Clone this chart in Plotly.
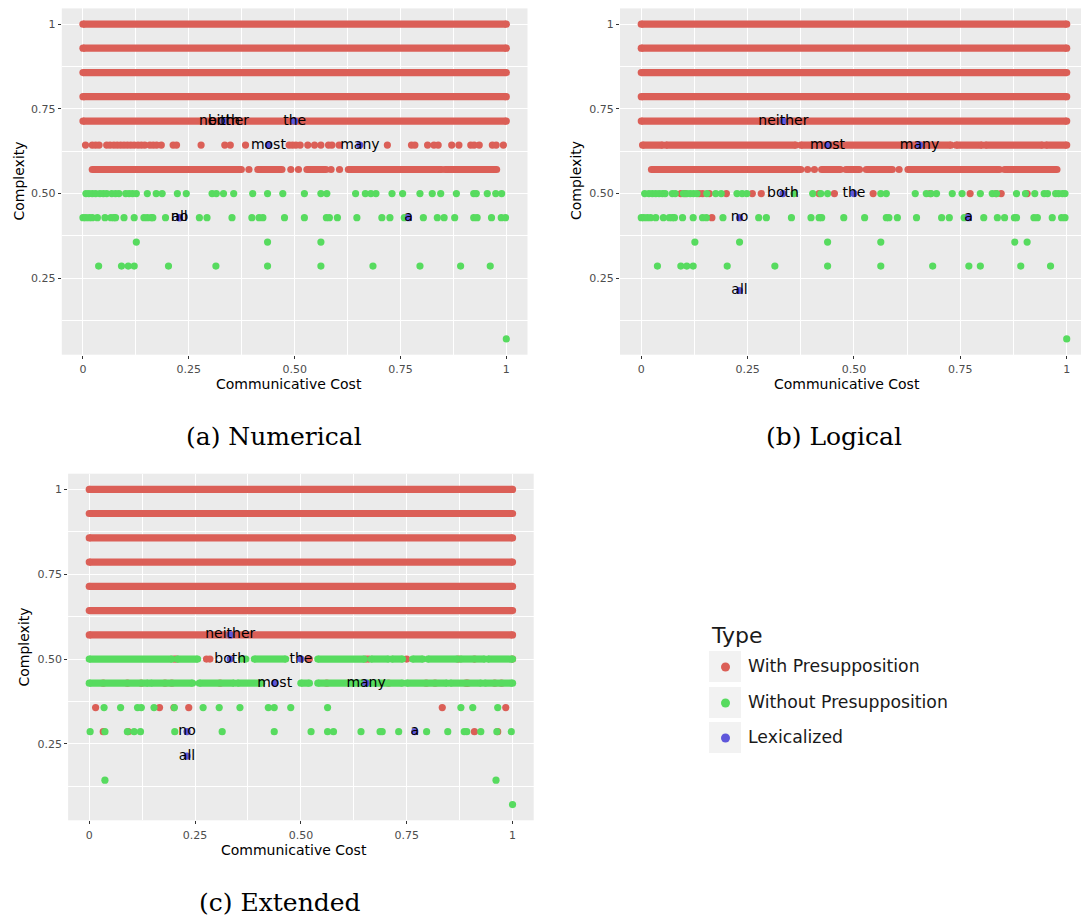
import plotly.graph_objects as go

W, H = 1081, 922
RED, GREEN, BLUE = "#DB5F57", "#57DB5F", "#5F57DB"

# ---------------- (a) Numerical ----------------
num_red_bands = [(1.0, 0.0, 1.0), (0.929, 0.0, 1.0), (0.857, 0.0, 1.0), (0.786, 0.0, 1.0), (0.714, 0.0, 1.0),
                 (0.571, 0.022, 0.374), (0.571, 0.413, 0.470), (0.571, 0.529, 0.574),
                 (0.571, 0.627, 0.847), (0.571, 0.855, 0.977)]
num_red_pts = {
    0.643: [0.006, 0.022, 0.030, 0.038, 0.056, 0.064, 0.073, 0.081, 0.089, 0.097, 0.105, 0.113, 0.121, 0.130,
            0.138, 0.146, 0.158, 0.166, 0.174, 0.185, 0.213, 0.221, 0.279, 0.335, 0.348, 0.384, 0.487, 0.495,
            0.503, 0.513, 0.531, 0.547, 0.562, 0.580, 0.588, 0.605, 0.719, 0.776, 0.784, 0.814, 0.829, 0.839,
            0.871, 0.888, 0.916, 0.924, 0.936, 0.967, 0.976, 0.993],
    0.571: [0.392, 0.491, 0.509, 0.586, 0.606],
}
num_green_bands = []
num_green_pts = {
    0.5: [0.007, 0.014, 0.022, 0.030, 0.040, 0.048, 0.056, 0.068, 0.077, 0.085, 0.101, 0.109, 0.117, 0.126,
          0.152, 0.173, 0.187, 0.223, 0.244, 0.305, 0.315, 0.332, 0.356, 0.401, 0.436, 0.472, 0.523, 0.562,
          0.576, 0.644, 0.667, 0.680, 0.692, 0.730, 0.755, 0.796, 0.825, 0.845, 0.882, 0.923, 0.929, 0.955,
          0.975, 0.989],
    0.429: [0.0, 0.007, 0.015, 0.022, 0.034, 0.052, 0.066, 0.073, 0.077, 0.097, 0.121, 0.144, 0.152, 0.161,
            0.165, 0.195, 0.275, 0.293, 0.352, 0.399, 0.416, 0.425, 0.476, 0.523, 0.575, 0.582, 0.601, 0.647,
            0.706, 0.725, 0.759, 0.804, 0.837, 0.853, 0.878, 0.923, 0.931, 0.965, 0.988, 0.998],
    0.357: [0.126, 0.436, 0.562],
    0.286: [0.037, 0.091, 0.107, 0.121, 0.202, 0.314, 0.436, 0.562, 0.685, 0.796, 0.892, 0.962],
    0.071: [1.0],
}
num_lex_words = ["neither", "both", "the", "most", "many", "all", "no", "a"]
num_lex_x = [0.333, 0.333, 0.5, 0.438, 0.654, 0.228, 0.228, 0.769]
num_lex_y = [0.714, 0.714, 0.714, 0.643, 0.643, 0.429, 0.429, 0.429]

# ---------------- (b) Logical ----------------
log_red_bands = [(1.0, 0.0, 1.0), (0.929, 0.0, 1.0), (0.857, 0.0, 1.0), (0.786, 0.0, 1.0), (0.714, 0.0, 1.0),
                 (0.643, 0.003, 0.050), (0.643, 0.058, 0.363), (0.643, 0.375, 0.728), (0.643, 0.740, 0.801),
                 (0.643, 0.809, 0.943), (0.643, 0.951, 1.0),
                 (0.571, 0.024, 0.375), (0.571, 0.424, 0.468), (0.571, 0.481, 0.513), (0.571, 0.529, 0.590),
                 (0.571, 0.627, 0.842), (0.571, 0.854, 0.977)]
log_red_pts = {
    0.571: [0.391, 0.407, 0.606],
    0.5: [0.093, 0.103, 0.136, 0.144, 0.160, 0.200, 0.261, 0.282, 0.418, 0.454, 0.545, 0.679, 0.773, 0.834,
          0.846, 0.907],
    0.429: [0.166],
}
log_green_bands = []
log_green_pts = {
    0.5: [0.008, 0.018, 0.026, 0.034, 0.042, 0.050, 0.056, 0.073, 0.080, 0.099, 0.107, 0.115, 0.123, 0.131,
          0.154, 0.175, 0.188, 0.225, 0.237, 0.248, 0.359, 0.403, 0.422, 0.438, 0.563, 0.576, 0.644, 0.670,
          0.681, 0.694, 0.731, 0.754, 0.797, 0.825, 0.835, 0.882, 0.903, 0.925, 0.947, 0.955, 0.974, 0.981,
          0.990, 0.996],
    0.429: [0.0, 0.006, 0.014, 0.022, 0.034, 0.052, 0.066, 0.073, 0.078, 0.097, 0.122, 0.144, 0.153, 0.192,
            0.276, 0.294, 0.353, 0.399, 0.418, 0.424, 0.476, 0.525, 0.576, 0.582, 0.602, 0.647, 0.706, 0.724,
            0.759, 0.805, 0.837, 0.854, 0.877, 0.882, 0.923, 0.931, 0.966, 0.988, 0.996],
    0.357: [0.126, 0.231, 0.438, 0.563, 0.878, 0.907],
    0.286: [0.038, 0.093, 0.107, 0.122, 0.202, 0.314, 0.438, 0.563, 0.685, 0.770, 0.797, 0.892, 0.962],
    0.071: [1.0],
}
log_lex_words = ["neither", "most", "many", "both", "the", "no", "a", "all"]
log_lex_x = [0.334, 0.438, 0.654, 0.333, 0.5, 0.231, 0.769, 0.231]
log_lex_y = [0.714, 0.643, 0.643, 0.5, 0.5, 0.429, 0.429, 0.214]

# ---------------- (c) Extended ----------------
ext_red_bands = [(1.0, 0.0, 1.0), (0.929, 0.0, 1.0), (0.857, 0.0, 1.0), (0.786, 0.0, 1.0), (0.714, 0.0, 1.0),
                 (0.643, 0.0, 1.0), (0.571, 0.0, 1.0)]
ext_red_pts = {
    0.5: [0.200, 0.205, 0.277, 0.285, 0.520, 0.654, 0.660, 0.750, 0.873, 0.910, 1.0],
    0.429: [0.033, 0.090, 0.123, 0.179, 0.195, 0.309, 0.561, 0.707, 0.796, 0.817, 0.890, 0.894, 0.958, 0.974],
    0.357: [0.015, 0.166, 0.200, 0.235, 0.834, 0.984],
    0.286: [0.033, 0.092, 0.910, 0.965],
}
ext_green_bands = [(0.5, 0.0, 0.195), (0.5, 0.208, 0.256), (0.5, 0.39, 0.464), (0.5, 0.54, 0.65),
                   (0.5, 0.666, 0.707), (0.5, 0.715, 0.74), (0.5, 0.764, 0.788), (0.5, 0.80, 0.87),
                   (0.5, 0.877, 0.934), (0.5, 0.942, 1.0),
                   (0.429, 0.0, 0.139), (0.429, 0.145, 0.244), (0.429, 0.26, 0.342), (0.429, 0.35, 0.407),
                   (0.429, 0.5, 0.52), (0.429, 0.54, 0.74), (0.429, 0.75, 0.845), (0.429, 0.853, 0.926),
                   (0.429, 0.934, 1.0)]
ext_green_pts = {
    0.5: [0.36, 0.37],
    0.357: [0.035, 0.074, 0.114, 0.123, 0.153, 0.201, 0.269, 0.307, 0.356, 0.423, 0.437, 0.476, 0.563, 0.878,
            0.906, 0.965],
    0.286: [0.002, 0.037, 0.090, 0.106, 0.121, 0.202, 0.314, 0.437, 0.524, 0.563, 0.577, 0.642, 0.687, 0.692,
            0.731, 0.797, 0.847, 0.886, 0.892, 0.925, 0.963, 0.997],
    0.143: [0.037, 0.961],
    0.071: [1.0],
}
ext_lex_words = ["neither", "both", "the", "most", "many", "no", "all", "a"]
ext_lex_x = [0.333, 0.333, 0.5, 0.438, 0.654, 0.231, 0.231, 0.769]
ext_lex_y = [0.571, 0.5, 0.5, 0.429, 0.429, 0.286, 0.214, 0.286]

x_tickvals = [0, 0.25, 0.5, 0.75, 1]
x_ticktext = ["0", "0.25", "0.50", "0.75", "1"]
y_tickvals = [0.25, 0.5, 0.75, 1]
y_ticktext = ["0.25", "0.50", "0.75", "1"]
minor_vals = [0.125, 0.375, 0.625, 0.875]
legend_labels = ["With Presupposition", "Without Presupposition", "Lexicalized"]
captions = ["(a) Numerical", "(b) Logical", "(c) Extended"]

MS = 7.2

fig = go.Figure()


def add_bands(bands, color, xa, ya):
    xs, ys = [], []
    for (lv, x0, x1) in bands:
        xs += [x0, x1, None]
        ys += [lv, lv, None]
    if xs:
        fig.add_trace(go.Scatter(x=xs, y=ys, mode="lines+markers", xaxis=xa, yaxis=ya,
                                 line=dict(color=color, width=MS), marker=dict(color=color, size=MS),
                                 hoverinfo="skip", showlegend=False))


def add_pts(pts, color, xa, ya):
    xs, ys = [], []
    for lv, vals in pts.items():
        xs += vals
        ys += [lv] * len(vals)
    fig.add_trace(go.Scatter(x=xs, y=ys, mode="markers", xaxis=xa, yaxis=ya,
                             marker=dict(color=color, size=MS), hoverinfo="skip", showlegend=False))


def add_lex(words, lx, ly, xa, ya):
    fig.add_trace(go.Scatter(x=lx, y=ly, mode="markers", xaxis=xa, yaxis=ya,
                             marker=dict(color=BLUE, size=MS), hoverinfo="skip", showlegend=False))
    fig.add_trace(go.Scatter(x=lx, y=ly, mode="text", text=words, textposition="middle center",
                             textfont=dict(family="DejaVu Sans", size=14, color="black"),
                             xaxis=xa, yaxis=ya, hoverinfo="skip", showlegend=False))


panels = [
    ("x", "y", num_red_bands, num_red_pts, num_green_bands, num_green_pts, num_lex_words, num_lex_x, num_lex_y),
    ("x2", "y2", log_red_bands, log_red_pts, log_green_bands, log_green_pts, log_lex_words, log_lex_x, log_lex_y),
    ("x3", "y3", ext_red_bands, ext_red_pts, ext_green_bands, ext_green_pts, ext_lex_words, ext_lex_x, ext_lex_y),
]
for xa, ya, rb, rp, gb, gp, lw, lx, ly in panels:
    add_bands(rb, RED, xa, ya)
    add_pts(rp, RED, xa, ya)
    add_bands(gb, GREEN, xa, ya)
    add_pts(gp, GREEN, xa, ya)
    add_lex(lw, lx, ly, xa, ya)


def px_x(p):
    return p / W


def px_y(p):
    return 1 - p / H


def common_axis():
    return dict(ticks="outside", ticklen=3, tickwidth=1, tickcolor="#333333",
                tickfont=dict(family="DejaVu Sans", size=11, color="#4D4D4D"),
                showgrid=True, gridcolor="white", gridwidth=1.1, zeroline=False, showline=False,
                minor=dict(tickvals=minor_vals, showgrid=True, gridcolor="white", gridwidth=0.5, ticks=""))


def xaxis(domain, rng, anchor):
    d = common_axis()
    d.update(domain=domain, range=rng, anchor=anchor, tickvals=x_tickvals, ticktext=x_ticktext,
             ticklabelstandoff=1)
    return d


def yaxis(domain, rng, anchor):
    d = common_axis()
    d.update(domain=domain, range=rng, anchor=anchor, tickvals=y_tickvals, ticktext=y_ticktext)
    return d


YR = [0.0246, 1.0464]
fig.update_layout(
    width=W, height=H, margin=dict(l=0, r=0, t=0, b=0),
    paper_bgcolor="white", plot_bgcolor="#EBEBEB",
    font=dict(family="DejaVu Sans", color="black"),
    xaxis=xaxis([px_x(61.8), px_x(527.5)], [-0.05, 1.05], "y"),
    yaxis=yaxis([px_y(354.7), px_y(8.4)], YR, "x"),
    xaxis2=xaxis([px_x(620), 1.0], [-0.05, 1.0336], "y2"),
    yaxis2=yaxis([px_y(354.7), px_y(8.4)], YR, "x2"),
    xaxis3=xaxis([px_x(68.1), px_x(533.7)], [-0.05, 1.05], "y3"),
    yaxis3=yaxis([px_y(820.3), px_y(473.7)], YR, "x3"),
)

ann = []
# axis titles
for cx, cy in [(289, 384), (847, 384), (294, 850)]:
    ann.append(dict(x=px_x(cx), y=px_y(cy), xref="paper", yref="paper", text="Communicative Cost",
                    showarrow=False, xanchor="center", yanchor="middle",
                    font=dict(family="DejaVu Sans", size=14, color="black")))
for cx, cy in [(18.5, 181), (576, 181), (23.5, 647)]:
    ann.append(dict(x=px_x(cx), y=px_y(cy), xref="paper", yref="paper", text="Complexity", textangle=-90,
                    showarrow=False, xanchor="center", yanchor="middle",
                    font=dict(family="DejaVu Sans", size=14, color="black")))
# captions
for txt, (cx, cy) in zip(captions, [(274, 436), (834, 436), (280, 902)]):
    ann.append(dict(x=px_x(cx), y=px_y(cy), xref="paper", yref="paper", text=txt, showarrow=False,
                    xanchor="center", yanchor="middle",
                    font=dict(family="DejaVu Serif", size=25, color="black")))
# legend
ann.append(dict(x=px_x(709), y=px_y(635), xref="paper", yref="paper", text="Type", showarrow=False,
                xanchor="left", yanchor="middle", font=dict(family="DejaVu Sans", size=22, color="#1A1A1A")))
shapes = []
key_tops = [651, 687, 722]
for lab, col, top in zip(legend_labels, [RED, GREEN, BLUE], key_tops):
    shapes.append(dict(type="rect", xref="paper", yref="paper", x0=px_x(709), x1=px_x(741),
                       y0=px_y(top + 31), y1=px_y(top), fillcolor="#F2F2F2", line=dict(width=0), layer="below"))
    shapes.append(dict(type="circle", xref="paper", yref="paper", xsizemode="pixel", ysizemode="pixel",
                       xanchor=px_x(725.5), yanchor=px_y(top + 16), x0=-4.5, x1=4.5, y0=-4.5, y1=4.5,
                       fillcolor=col, line=dict(width=0)))
    ann.append(dict(x=px_x(746), y=px_y(top + 15), xref="paper", yref="paper", text=lab, showarrow=False,
                    xanchor="left", yanchor="middle",
                    font=dict(family="DejaVu Sans", size=17.3, color="#1A1A1A")))

fig.update_layout(annotations=ann, shapes=shapes)
fig.write_html("out.html", config={"displayModeBar": False},
               post_script="document.body.style.margin='0px';document.body.style.overflow='hidden';")
